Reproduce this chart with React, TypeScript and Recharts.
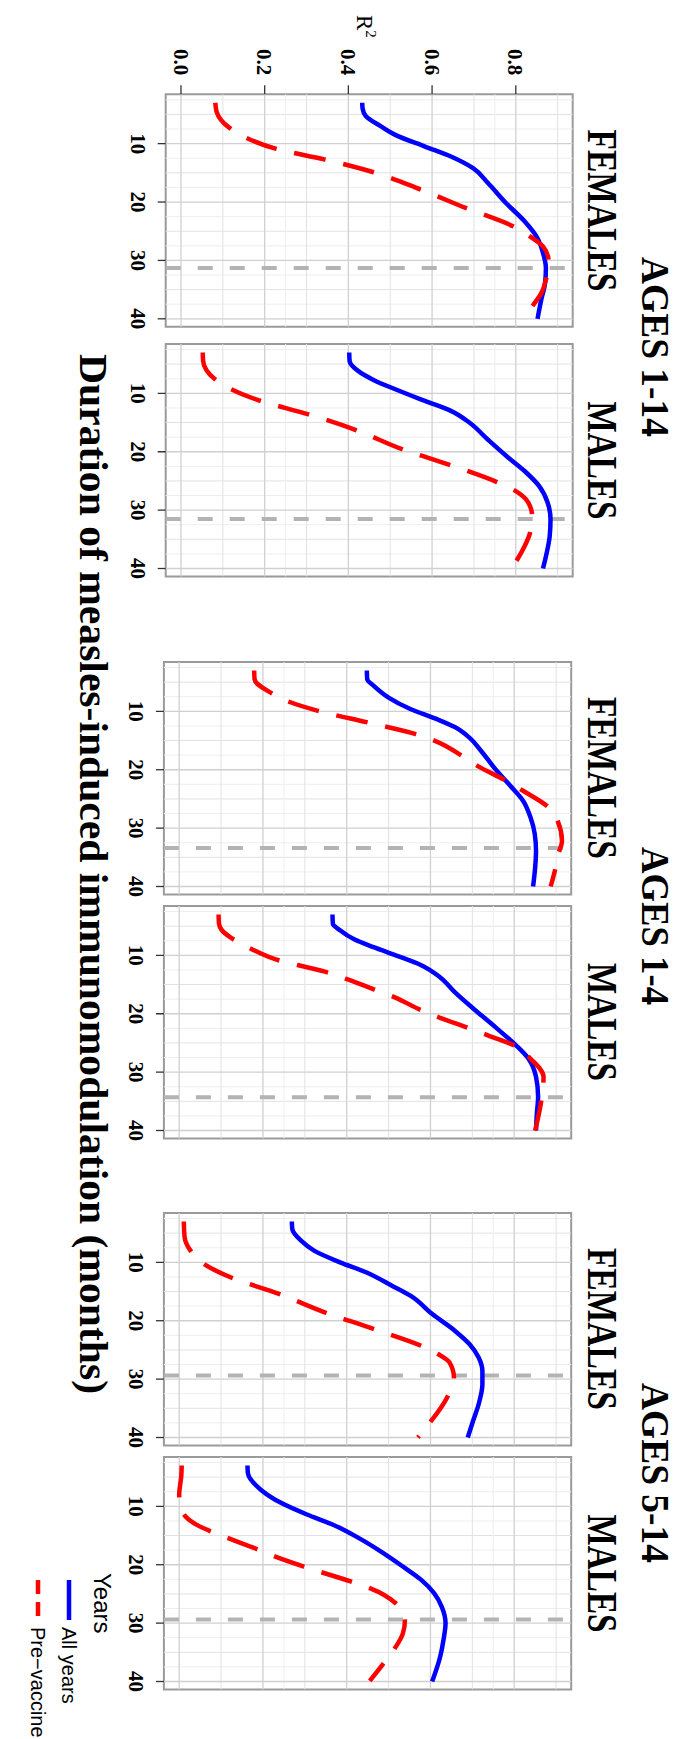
import React from 'react';
import { LineChart, Line, XAxis, YAxis, ReferenceLine, ReferenceArea } from 'recharts';

// ---- data: [months, R^2] ----
const AGE_GROUPS = ['AGES 1-14', 'AGES 1-4', 'AGES 5-14'];
const SEXES = ['FEMALES', 'MALES'];
const MONTH_TICKS = [10, 20, 30, 40];
const R2_TICKS = [0, 0.2, 0.4, 0.6, 0.8];
// month of the dashed grey cut-off line, one per panel
const CUTOFFS = [31.3, 31.5, 33.4, 34.3, 29.4, 29.4];

const F114_ALL = [[3, 0.433], [4, 0.434], [5.3, 0.442], [7, 0.477], [8.5, 0.512], [10.5, 0.583], [12.2, 0.645], [14.2, 0.698], [16.7, 0.733], [20.2, 0.777], [23.3, 0.821], [26.2, 0.852], [28.7, 0.865], [31.3, 0.872], [33.9, 0.87], [36.7, 0.861], [40, 0.852]];
const F114_PRE = [[3, 0.082], [4.5, 0.085], [7.3, 0.116], [8.9, 0.153], [10.9, 0.228], [12.7, 0.342], [14.9, 0.46], [17.9, 0.574], [21, 0.68], [24.2, 0.795], [25.9, 0.834], [27.6, 0.865], [29.9, 0.878], [33.3, 0.872], [35.6, 0.861], [37.9, 0.839], [40, 0.82]];
const M114_ALL = [[3, 0.402], [4.5, 0.403], [6.2, 0.424], [7.7, 0.46], [9.3, 0.512], [11.3, 0.583], [13, 0.645], [15, 0.689], [17.9, 0.733], [20.7, 0.777], [23.3, 0.821], [25.9, 0.856], [28.7, 0.876], [31.6, 0.883], [34.5, 0.881], [37.3, 0.874], [40, 0.865]];
const M114_PRE = [[3, 0.052], [4.5, 0.053], [7.5, 0.08], [9.3, 0.12], [11.2, 0.186], [13.6, 0.305], [16.2, 0.415], [19.6, 0.53], [22.2, 0.64], [25.2, 0.755], [26.7, 0.799], [28.7, 0.83], [31, 0.839], [33.9, 0.834], [36.2, 0.821], [39, 0.799], [40, 0.79]];
const F14_ALL = [[3, 0.448], [4.5, 0.449], [5.6, 0.464], [7.6, 0.499], [9.6, 0.552], [11.3, 0.614], [12.7, 0.658], [14.5, 0.693], [16.7, 0.72], [19.9, 0.755], [22.7, 0.79], [25.3, 0.821], [28.2, 0.839], [31, 0.849], [33.9, 0.852], [36.7, 0.85], [40, 0.845]];
const F14_PRE = [[3, 0.179], [4.5, 0.18], [6.9, 0.221], [8.3, 0.26], [10, 0.336], [11.9, 0.45], [13.9, 0.565], [15, 0.609], [17.6, 0.675], [19.3, 0.711], [21.9, 0.781], [23.6, 0.821], [26.5, 0.883], [29, 0.905], [32.2, 0.914], [34.5, 0.905], [37, 0.898], [40, 0.887]];
const M14_ALL = [[3, 0.366], [4.6, 0.367], [5.7, 0.384], [7.3, 0.419], [8.6, 0.464], [10, 0.517], [11.7, 0.578], [13.7, 0.622], [16.3, 0.658], [19.1, 0.702], [22.3, 0.755], [25.4, 0.804], [27.7, 0.834], [30.8, 0.852], [34.2, 0.857], [37.1, 0.854], [40, 0.852]];
const M14_PRE = [[3, 0.094], [4.6, 0.095], [5.7, 0.102], [7.2, 0.128], [8.9, 0.172], [10.9, 0.24], [11.7, 0.285], [13, 0.358], [14, 0.397], [15.9, 0.468], [17.1, 0.512], [19.4, 0.578], [20.7, 0.623], [22.4, 0.689], [23.7, 0.737], [25.7, 0.808], [27.7, 0.839], [30.8, 0.87], [33.1, 0.868], [35.6, 0.863], [40, 0.85]];
const F514_ALL = [[3, 0.269], [4.3, 0.27], [6.3, 0.291], [8, 0.322], [10, 0.384], [11.7, 0.446], [14, 0.508], [15.7, 0.552], [18.9, 0.605], [21.7, 0.658], [24, 0.693], [26.3, 0.715], [28.6, 0.724], [30.9, 0.724], [34.3, 0.715], [37.1, 0.702], [40, 0.689]];
const F514_PRE = [[3, 0.011], [5.7, 0.013], [8, 0.027], [10.2, 0.057], [12.6, 0.124], [15.4, 0.238], [18.6, 0.349], [21.4, 0.464], [24.3, 0.578], [25.7, 0.618], [27.1, 0.645], [29.7, 0.656], [33.1, 0.64], [37.7, 0.596], [40, 0.57]];
const M514_ALL = [[3, 0.163], [4.3, 0.164], [7.1, 0.194], [9.4, 0.243], [11.4, 0.305], [13.1, 0.366], [15.4, 0.428], [17.7, 0.481], [20.3, 0.534], [22.6, 0.578], [24.9, 0.609], [27.2, 0.627], [30, 0.636], [32.9, 0.631], [35.8, 0.623], [40, 0.604]];
const M514_PRE = [[3, 0.006], [4.8, 0.005], [8, 0.0], [11.1, 0.009], [13.1, 0.04], [15.4, 0.115], [17.3, 0.185], [18.5, 0.225], [20.3, 0.296], [22.9, 0.411], [24, 0.455], [26.6, 0.517], [29.5, 0.539], [31.8, 0.534], [34.3, 0.515], [36.9, 0.488], [39.9, 0.455]];

const SERIES_ALL = [F114_ALL, M114_ALL, F14_ALL, M14_ALL, F514_ALL, M514_ALL];
const SERIES_PRE = [F114_PRE, M114_PRE, F14_PRE, M14_PRE, F514_PRE, M514_PRE];

// ---- layout (drawn unrotated, then the whole figure is turned 90deg) ----
const W0 = 1739;
const H0 = 679;
const PANEL_LEN = 232.4;
const M_DOMAIN = [1.55, 41.35];
const R_DOMAIN = [-0.0365, 0.936];
const PANEL_LEFT = [94.3, 344.3, 661.7, 905.7, 1212.7, 1457.3];
const GROUP_TOP = [106.3, 107.8, 107.8];
const GROUP_BOTTOM = [513.3, 515.1, 515.1];
const TITLE_CX = [347, 926, 1473];
const TITLE_LEN = [180, 158, 180];
const STRIP_LEN = [162, 118];

const SERIF = '"Liberation Serif", "Times New Roman", serif';
const SANS = '"Liberation Sans", Arial, sans-serif';

const M_MINOR = [2.5, 5, 7.5, 12.5, 15, 17.5, 22.5, 25, 27.5, 32.5, 35, 37.5];
const R_MINOR = [0.1, 0.25, 0.3, 0.5, 0.7, 0.75, 0.9];

const toPts = (s: number[][]) => s.map(([m, r]) => ({ m, r }));

function Panel({ idx }: { idx: number }) {
  const g = Math.floor(idx / 2);
  const left = PANEL_LEFT[idx];
  const top = GROUP_TOP[g];
  const bottom = GROUP_BOTTOM[g];
  const withLabels = idx === 0;
  const withTicks = idx % 2 === 1;
  const yw = withLabels ? left : 20;
  const xh = 60;
  const width = yw + PANEL_LEN + 6;

  return (
    <div style={{ position: 'absolute', left: left - yw, top: 0 }}>
      <LineChart
        width={width}
        height={H0}
        margin={{ top, right: 6, bottom: H0 - bottom - xh, left: 0 }}
      >
        <XAxis
          type="number"
          dataKey="m"
          domain={M_DOMAIN}
          ticks={MONTH_TICKS}
          allowDataOverflow
          interval={0}
          height={xh}
          axisLine={false}
          tickSize={8}
          tickMargin={12}
          tickLine={{ stroke: '#333', strokeWidth: 1.3 }}
          tick={{ fontFamily: SERIF, fontSize: 21, fontWeight: 'bold', fill: '#000' }}
        />
        <YAxis
          type="number"
          domain={R_DOMAIN}
          ticks={R2_TICKS}
          allowDataOverflow
          interval={0}
          width={yw}
          axisLine={false}
          tickSize={withLabels ? 9 : 2.5}
          tickMargin={10}
          tickLine={withLabels || withTicks ? { stroke: '#333', strokeWidth: 1.3 } : false}
          tick={withLabels ? { fontFamily: SERIF, fontSize: 21, fontWeight: 'bold', fill: '#000' } : false}
          tickFormatter={(v: number) => v.toFixed(1)}
        />
        {M_MINOR.map((v) => (
          <ReferenceLine key={'mx' + v} x={v} stroke={v % 5 === 0 ? '#e2e2e2' : '#eeeeee'} strokeWidth={1} />
        ))}
        {R_MINOR.map((v) => (
          <ReferenceLine key={'ry' + v} y={v} stroke={v === 0.25 || v === 0.75 ? '#eeeeee' : '#e2e2e2'} strokeWidth={1} />
        ))}
        {MONTH_TICKS.map((v) => (
          <ReferenceLine key={'Mx' + v} x={v} stroke="#d0d0d0" strokeWidth={1.3} />
        ))}
        {R2_TICKS.map((v) => (
          <ReferenceLine key={'Ry' + v} y={v} stroke="#d0d0d0" strokeWidth={1.3} />
        ))}
        <ReferenceLine x={CUTOFFS[idx]} stroke="#b3b3b3" strokeWidth={4} strokeDasharray="15 17" />
        <Line
          data={toPts(SERIES_ALL[idx])}
          dataKey="r"
          type="monotone"
          stroke="#0000ff"
          strokeWidth={4.5}
          dot={false}
          activeDot={false}
          isAnimationActive={false}
        />
        <Line
          data={toPts(SERIES_PRE[idx])}
          dataKey="r"
          type="monotone"
          stroke="#ff0000"
          strokeWidth={4.5}
          strokeDasharray="32 18"
          dot={false}
          activeDot={false}
          isAnimationActive={false}
        />
        <ReferenceArea
          x1={M_DOMAIN[0]}
          x2={M_DOMAIN[1]}
          y1={R_DOMAIN[0]}
          y2={R_DOMAIN[1]}
          fill="none"
          stroke="#9a9a9a"
          strokeWidth={2}
          ifOverflow="visible"
        />
      </LineChart>
    </div>
  );
}

function Labels() {
  return (
    <svg width={W0} height={H0} style={{ position: 'absolute', left: 0, top: 0, pointerEvents: 'none' }}>
      <text x={15} y={322} fontFamily={SERIF} fontSize={23} fill="#000">
        R<tspan dy={-9} fontSize={15}>2</tspan>
      </text>
      {AGE_GROUPS.map((t, g) => (
        <text
          key={t}
          x={TITLE_CX[g]}
          y={37.3}
          textAnchor="middle"
          fontFamily={SERIF}
          fontSize={40}
          fontWeight="bold"
          textLength={TITLE_LEN[g]}
          lengthAdjust="spacingAndGlyphs"
        >
          {t}
        </text>
      ))}
      {PANEL_LEFT.map((l, i) => (
        <text
          key={'s' + i}
          x={l + PANEL_LEN / 2}
          y={90.7}
          textAnchor="middle"
          fontFamily={SERIF}
          fontSize={43}
          fontWeight="bold"
          textLength={STRIP_LEN[i % 2]}
          lengthAdjust="spacingAndGlyphs"
        >
          {SEXES[i % 2]}
        </text>
      ))}
      <text
        x={874}
        y={599}
        textAnchor="middle"
        fontFamily={SERIF}
        fontSize={41}
        fontWeight="bold"
        textLength={1040}
        lengthAdjust="spacingAndGlyphs"
      >
        Duration of measles-induced immunomodulation (months)
      </text>
      <text x={1573} y={585} fontFamily={SANS} fontSize={24}>Years</text>
      <line x1={1580} x2={1620} y1={610} y2={610} stroke="#0000ff" strokeWidth={4.5} />
      <text x={1627} y={610} dominantBaseline="central" fontFamily={SANS} fontSize={20}>All years</text>
      <line x1={1580} x2={1620} y1={641} y2={641} stroke="#ff0000" strokeWidth={4.5} strokeDasharray="14 8" />
      <text x={1627} y={641} dominantBaseline="central" fontFamily={SANS} fontSize={20}>Pre−vaccine</text>
    </svg>
  );
}

export default function App() {
  return (
    <div style={{ position: 'absolute', left: 0, top: 0, width: 679, height: 1739, overflow: 'hidden', background: '#fff' }}>
      <div
        style={{
          position: 'absolute',
          left: 0,
          top: 0,
          width: W0,
          height: H0,
          transformOrigin: '0 0',
          transform: `translate(${H0}px, 0px) rotate(90deg)`,
        }}
      >
        {PANEL_LEFT.map((_, i) => (
          <Panel key={i} idx={i} />
        ))}
        <Labels />
      </div>
    </div>
  );
}
